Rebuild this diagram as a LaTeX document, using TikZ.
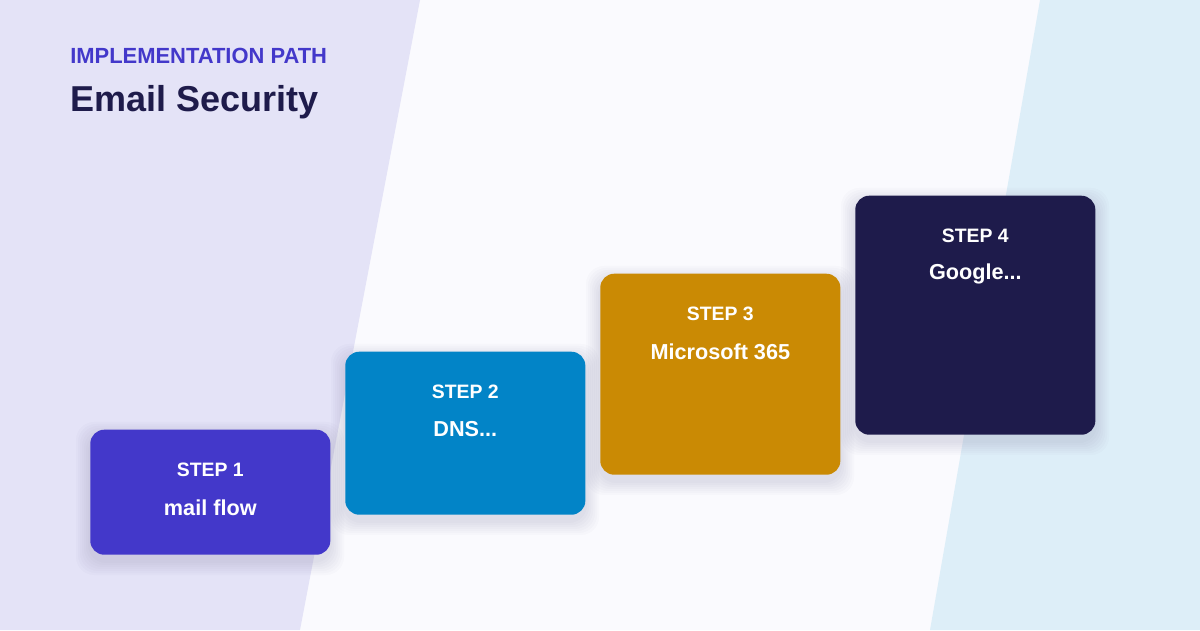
\documentclass[tikz,border=0pt]{standalone}
\usepackage{fontspec}
\setmainfont{Liberation Sans}
\usetikzlibrary{positioning}

\definecolor{bgleft}{HTML}{E4E3F7}
\definecolor{bgmid}{HTML}{FAFAFE}
\definecolor{bgright}{HTML}{DDEEF8}
\definecolor{stepone}{HTML}{4338CA}
\definecolor{steptwo}{HTML}{0284C7}
\definecolor{stepthree}{HTML}{CA8A04}
\definecolor{stepfour}{HTML}{1E1B4B}

\begin{document}
\begin{tikzpicture}[x=0.025cm, y=0.025cm,
    stepbox/.style={rounded corners=0.35cm, minimum width=6cm, inner sep=0pt, anchor=south west},
    glow/.style={fill=stepfour, opacity=0.014, rounded corners=0.45cm},
    steptag/.style={text=white, font=\bfseries\fontsize{13.8}{16}\selectfont},
    steplabel/.style={text=white, font=\bfseries\fontsize{15.4}{18}\selectfont}]

    % Background bands
    \fill[bgmid] (0,0) rectangle (1200,630);
    \fill[bgleft] (0,0) -- (300,0) -- (420,630) -- (0,630) -- cycle;
    \fill[bgright] (930,0) -- (1040,630) -- (1200,630) -- (1200,0) -- cycle;
    \useasboundingbox (0,0) rectangle (1200,630);

    % Heading
    \node[anchor=base west, inner sep=0pt, text=stepone, font=\bfseries\fontsize{15.6}{18}\selectfont] (kicker) at (70,566) {IMPLEMENTATION PATH};
    \node[anchor=base west, inner sep=0pt, text=stepfour, font=\bfseries\fontsize{25.6}{30}\selectfont] (title) at (70,518) {Email Security};

    % The steps, climbing to the right
    \foreach \i/\x/\y/\h/\col/\txt in {1/90/75/125/stepone/{mail flow}, 2/345/115/163/steptwo/{DNS.{}.{}.}, 3/600/155/201/stepthree/{Microsoft 365}, 4/855/195/239/stepfour/{Google.{}.{}.}}
    {
        % soft shadow
        \foreach \k in {2,4,...,14}
            \fill[glow] (\x-\k,\y-\k-6) rectangle (\x+240+\k,\y+\h+\k-6);
        \node[stepbox, fill=\col, minimum height=\h*0.025cm] (step\i) at (\x,\y) {};
        \node[steptag] (tag\i) at ([yshift=-1cm]step\i.north) {STEP \i};
        \node[steplabel] (label\i) at ([yshift=-1.95cm]step\i.north) {\txt};
    }
\end{tikzpicture}
\end{document}
